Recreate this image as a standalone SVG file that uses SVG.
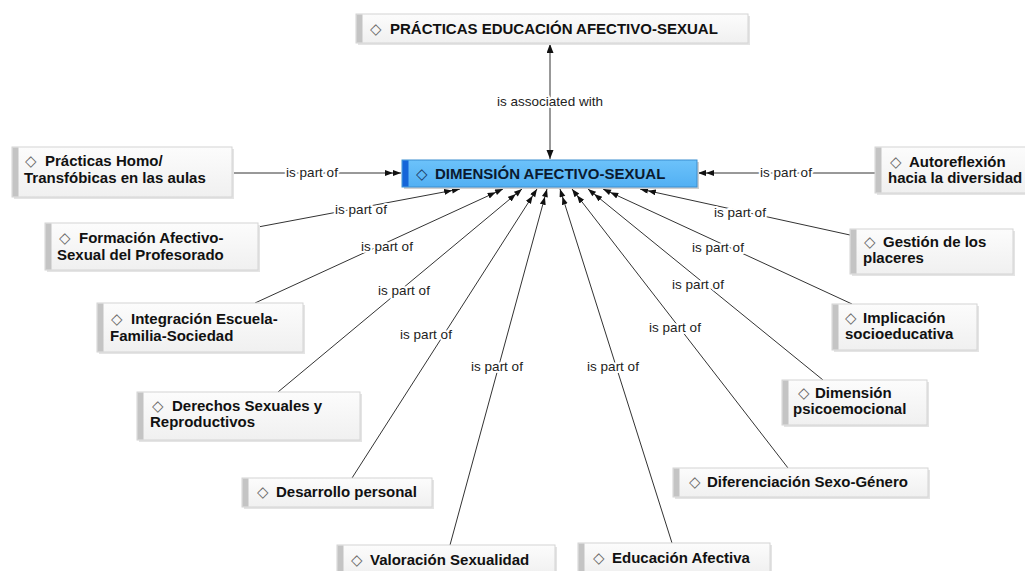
<svg xmlns="http://www.w3.org/2000/svg" width="1025" height="571" viewBox="0 0 1025 571">
<defs>
<linearGradient id="ng" x1="0" y1="0" x2="0" y2="1"><stop offset="0" stop-color="#fcfcfc"/><stop offset="1" stop-color="#f0f0f0"/></linearGradient>
<linearGradient id="cg" x1="0" y1="0" x2="0" y2="1"><stop offset="0" stop-color="#6cc2fa"/><stop offset="1" stop-color="#52b0f3"/></linearGradient>
<marker id="dbl" markerUnits="userSpaceOnUse" markerWidth="18" markerHeight="8" refX="16" refY="3" orient="auto"><path d="M0,0 L8,3 L0,6 Z M8,0 L16,3 L8,6 Z" fill="#111"/></marker>
<marker id="one" markerUnits="userSpaceOnUse" markerWidth="10" markerHeight="8" refX="9" refY="3.5" orient="auto-start-reverse"><path d="M0,0 L9,3.5 L0,7 Z" fill="#111"/></marker>
</defs>
<style>
.n{fill:url(#ng);stroke:#d4d4d4;stroke-width:1}
.sh{fill:#e4e4e4}
.bar{fill:#c4c4c4}
.t{font-family:"Liberation Sans",Arial,sans-serif;font-size:15px;font-weight:bold;fill:#111}
.d{font-family:"DejaVu Sans",sans-serif;font-size:15px;fill:#666;font-weight:normal}
.e{stroke:#333;stroke-width:1;fill:none}
.l{font-family:"Liberation Sans",Arial,sans-serif;font-size:13.5px;fill:#222;text-anchor:middle;stroke:#fff;stroke-width:4;paint-order:stroke;stroke-linejoin:round}
</style>
<rect width="1025" height="571" fill="#fff"/>
<g id="connectors">
<line class="e" x1="550" y1="44" x2="550" y2="159" marker-start="url(#one)" marker-end="url(#one)"/>
<line class="e" x1="232" y1="173" x2="401" y2="173" marker-end="url(#dbl)"/>
<line class="e" x1="875" y1="173" x2="698" y2="173" marker-end="url(#dbl)"/>
<line class="e" x1="258" y1="227" x2="460" y2="189" marker-end="url(#dbl)"/>
<line class="e" x1="255" y1="303" x2="503" y2="189" marker-end="url(#dbl)"/>
<line class="e" x1="278" y1="392" x2="522" y2="189" marker-end="url(#dbl)"/>
<line class="e" x1="352" y1="478" x2="537" y2="189" marker-end="url(#dbl)"/>
<line class="e" x1="450" y1="545" x2="547" y2="189" marker-end="url(#dbl)"/>
<line class="e" x1="672" y1="543" x2="560" y2="189" marker-end="url(#dbl)"/>
<line class="e" x1="788" y1="468" x2="572" y2="189" marker-end="url(#dbl)"/>
<line class="e" x1="823" y1="380" x2="588" y2="189" marker-end="url(#dbl)"/>
<line class="e" x1="852" y1="304" x2="603" y2="189" marker-end="url(#dbl)"/>
<line class="e" x1="850" y1="235" x2="640" y2="189" marker-end="url(#dbl)"/>
<text class="l" x="550" y="106">is associated with</text>
<text class="l" x="312" y="177">is part of</text>
<text class="l" x="786" y="177">is part of</text>
<text class="l" x="361" y="214">is part of</text>
<text class="l" x="387" y="251">is part of</text>
<text class="l" x="404" y="295">is part of</text>
<text class="l" x="426" y="339">is part of</text>
<text class="l" x="497" y="371">is part of</text>
<text class="l" x="613" y="371">is part of</text>
<text class="l" x="675" y="332">is part of</text>
<text class="l" x="698" y="289">is part of</text>
<text class="l" x="718" y="252">is part of</text>
<text class="l" x="740" y="217">is part of</text>
</g>
<g id="n-top">
<rect class="sh" x="358" y="16" width="392" height="29"/>
<rect class="n" x="356" y="14" width="392" height="29"/>
<rect class="bar" x="356.5" y="14.5" width="6" height="28"/>
<text class="t" y="34"><tspan class="d" x="370">◇</tspan><tspan x="390">PRÁCTICAS EDUCACIÓN AFECTIVO-SEXUAL</tspan></text>
</g>
<g id="n-central">
<rect x="404" y="162" width="295" height="27" fill="#d0d0d0"/>
<rect x="402" y="160" width="295" height="27" fill="url(#cg)" stroke="#3a8ed0" stroke-width="1"/>
<rect x="402.5" y="160.5" width="6" height="26" fill="#1565d8"/>
<text class="t" y="179" style="fill:#0b1a30"><tspan class="d" x="416" style="fill:#1b3a66">◇</tspan><tspan x="435">DIMENSIÓN AFECTIVO-SEXUAL</tspan></text>
</g>
<g id="n-homo">
<rect class="sh" x="14" y="149" width="220" height="50"/>
<rect class="n" x="12" y="147" width="220" height="50"/>
<rect class="bar" x="12.5" y="147.5" width="6" height="49"/>
<text class="t" y="166"><tspan class="d" x="25">◇</tspan><tspan x="45">Prácticas Homo/</tspan><tspan x="24" y="183">Transfóbicas en las aulas</tspan></text>
</g>
<g id="n-auto">
<rect class="sh" x="877" y="149" width="150" height="46"/>
<rect class="n" x="875" y="147" width="152" height="46"/>
<rect class="bar" x="875.5" y="147.5" width="6" height="45"/>
<text class="t" y="167"><tspan class="d" x="890">◇</tspan><tspan x="909">Autoreflexión</tspan><tspan x="888" y="183">hacia la diversidad</tspan></text>
</g>
<g id="n-formacion">
<rect class="sh" x="47" y="225" width="213" height="47"/>
<rect class="n" x="45" y="223" width="213" height="47"/>
<rect class="bar" x="45.5" y="223.5" width="6" height="46"/>
<text class="t" y="243"><tspan class="d" x="59">◇</tspan><tspan x="79">Formación Afectivo-</tspan><tspan x="57" y="260">Sexual del Profesorado</tspan></text>
</g>
<g id="n-integracion">
<rect class="sh" x="99" y="305" width="206" height="49"/>
<rect class="n" x="97" y="303" width="206" height="49"/>
<rect class="bar" x="97.5" y="303.5" width="6" height="48"/>
<text class="t" y="324"><tspan class="d" x="111">◇</tspan><tspan x="131">Integración Escuela-</tspan><tspan x="110" y="341">Familia-Sociedad</tspan></text>
</g>
<g id="n-derechos">
<rect class="sh" x="139" y="394" width="223" height="48"/>
<rect class="n" x="137" y="392" width="223" height="48"/>
<rect class="bar" x="137.5" y="392.5" width="6" height="47"/>
<text class="t" y="411"><tspan class="d" x="152">◇</tspan><tspan x="172">Derechos Sexuales y</tspan><tspan x="150" y="427">Reproductivos</tspan></text>
</g>
<g id="n-desarrollo">
<rect class="sh" x="244" y="480" width="190" height="29"/>
<rect class="n" x="242" y="478" width="190" height="29"/>
<rect class="bar" x="242.5" y="478.5" width="6" height="28"/>
<text class="t" y="497"><tspan class="d" x="257">◇</tspan><tspan x="276">Desarrollo personal</tspan></text>
</g>
<g id="n-valoracion">
<rect class="sh" x="339" y="547" width="218" height="30"/>
<rect class="n" x="337" y="545" width="218" height="30"/>
<rect class="bar" x="337.5" y="545.5" width="6" height="29"/>
<text class="t" y="565"><tspan class="d" x="351">◇</tspan><tspan x="370">Valoración Sexualidad</tspan></text>
</g>
<g id="n-educacion">
<rect class="sh" x="580" y="545" width="192" height="30"/>
<rect class="n" x="578" y="543" width="192" height="30"/>
<rect class="bar" x="578.5" y="543.5" width="6" height="29"/>
<text class="t" y="563"><tspan class="d" x="593">◇</tspan><tspan x="612">Educación Afectiva</tspan></text>
</g>
<g id="n-diferenciacion">
<rect class="sh" x="675" y="470" width="255" height="29"/>
<rect class="n" x="673" y="468" width="255" height="29"/>
<rect class="bar" x="673.5" y="468.5" width="6" height="28"/>
<text class="t" y="487"><tspan class="d" x="689">◇</tspan><tspan x="707">Diferenciación Sexo-Género</tspan></text>
</g>
<g id="n-psico">
<rect class="sh" x="784" y="382" width="145" height="45"/>
<rect class="n" x="782" y="380" width="145" height="45"/>
<rect class="bar" x="782.5" y="380.5" width="6" height="44"/>
<text class="t" y="398"><tspan class="d" x="798">◇</tspan><tspan x="815">Dimensión</tspan><tspan x="793" y="414">psicoemocional</tspan></text>
</g>
<g id="n-implicacion">
<rect class="sh" x="834" y="306" width="145" height="46"/>
<rect class="n" x="832" y="304" width="145" height="46"/>
<rect class="bar" x="832.5" y="304.5" width="6" height="45"/>
<text class="t" y="323"><tspan class="d" x="845">◇</tspan><tspan x="863">Implicación</tspan><tspan x="845" y="339">socioeducativa</tspan></text>
</g>
<g id="n-gestion">
<rect class="sh" x="852" y="231" width="163" height="45"/>
<rect class="n" x="850" y="229" width="163" height="45"/>
<rect class="bar" x="850.5" y="229.5" width="6" height="44"/>
<text class="t" y="247"><tspan class="d" x="864">◇</tspan><tspan x="883">Gestión de los</tspan><tspan x="863" y="263">placeres</tspan></text>
</g>
</svg>
